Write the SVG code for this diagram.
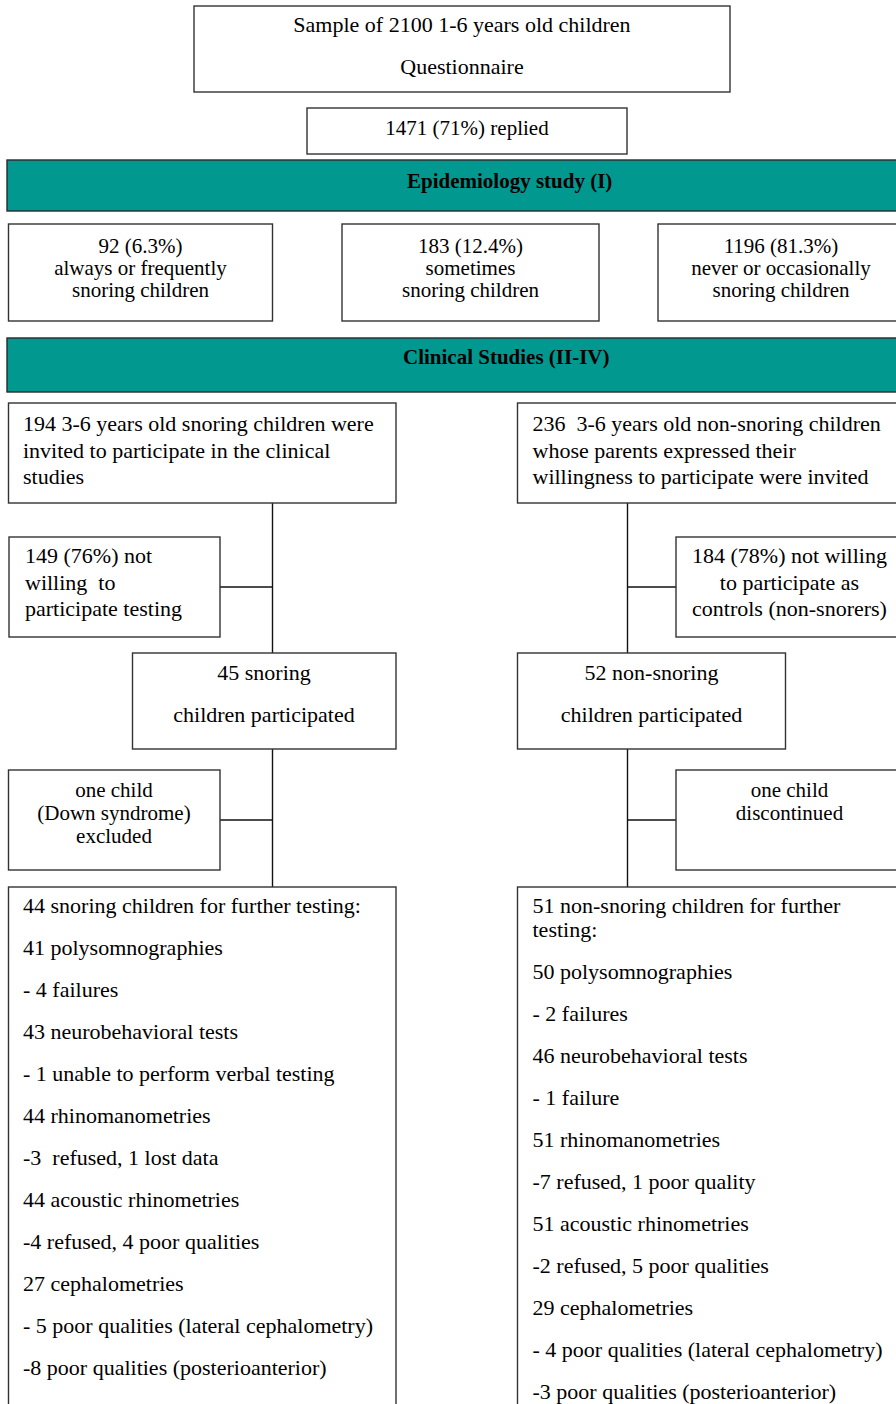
<svg xmlns="http://www.w3.org/2000/svg" width="896" height="1404" viewBox="0 0 896 1404">
<style>
.box{fill:#fff;stroke:#333;stroke-width:1.4}
.ban{fill:#00988F;stroke:#2a2a2a;stroke-width:1.4}
.t{font-family:"Liberation Serif","Times New Roman",serif;font-size:22px;fill:#000}
.s{font-size:21px}
.c{text-anchor:middle}
.b{font-weight:bold;font-size:21px}
.ln{stroke:#111;stroke-width:1.4;fill:none}
</style>
<rect width="896" height="1404" fill="#fff"/>
<g id="connectors">
<line class="ln" x1="272.5" y1="503" x2="272.5" y2="653"/>
<line class="ln" x1="220" y1="587" x2="272.5" y2="587"/>
<line class="ln" x1="272.5" y1="749" x2="272.5" y2="887"/>
<line class="ln" x1="220" y1="820" x2="272.5" y2="820"/>
<line class="ln" x1="627.5" y1="503" x2="627.5" y2="653"/>
<line class="ln" x1="627.5" y1="587" x2="676" y2="587"/>
<line class="ln" x1="627.5" y1="749" x2="627.5" y2="887"/>
<line class="ln" x1="627.5" y1="820" x2="676" y2="820"/>
</g>
<g id="sample">
<rect class="box" x="194" y="6" width="536" height="86"/>
<text class="t c" x="462" y="32">Sample of 2100 1-6 years old children</text>
<text class="t c" x="462" y="74">Questionnaire</text>
</g>
<g id="replied">
<rect class="box" x="307" y="108" width="320" height="46"/>
<text class="t c s" x="467" y="135">1471 (71%) replied</text>
</g>
<g id="epi">
<rect class="ban" x="7" y="160" width="1010" height="51"/>
<text class="t b" x="407" y="188">Epidemiology study (I)</text>
</g>
<g id="always">
<rect class="box" x="8.5" y="224" width="264" height="97"/>
<text class="t c s" x="140.5" y="253">92 (6.3%)</text>
<text class="t c s" x="140.5" y="275">always or frequently</text>
<text class="t c s" x="140.5" y="297">snoring children</text>
</g>
<g id="sometimes">
<rect class="box" x="342" y="224" width="257" height="97"/>
<text class="t c s" x="470.5" y="253">183 (12.4%)</text>
<text class="t c s" x="470.5" y="275">sometimes</text>
<text class="t c s" x="470.5" y="297">snoring children</text>
</g>
<g id="never">
<rect class="box" x="658" y="224" width="246" height="97"/>
<text class="t c s" x="781" y="253">1196 (81.3%)</text>
<text class="t c s" x="781" y="275">never or occasionally</text>
<text class="t c s" x="781" y="297">snoring children</text>
</g>
<g id="clinical">
<rect class="ban" x="7" y="338" width="1010" height="54"/>
<text class="t b" x="403" y="364">Clinical Studies (II-IV)</text>
</g>
<g id="invited-snoring">
<rect class="box" x="8.5" y="403" width="387.5" height="100"/>
<text class="t" x="23" y="431">194 3-6 years old snoring children were</text>
<text class="t" x="23" y="457.5">invited to participate in the clinical</text>
<text class="t" x="23" y="484">studies</text>
</g>
<g id="invited-nonsnoring">
<rect class="box" x="517.5" y="403" width="390" height="100"/>
<text class="t" x="532.5" y="431" xml:space="preserve">236  3-6 years old non-snoring children</text>
<text class="t" x="532.5" y="457.5">whose parents expressed their</text>
<text class="t" x="532.5" y="484">willingness to participate were invited</text>
</g>
<g id="not-willing-snoring">
<rect class="box" x="9" y="537" width="211" height="100"/>
<text class="t" x="25" y="563">149 (76%) not</text>
<text class="t" x="25" y="589.5" xml:space="preserve">willing  to</text>
<text class="t" x="25" y="616">participate testing</text>
</g>
<g id="not-willing-controls">
<rect class="box" x="676" y="537" width="228" height="100"/>
<text class="t c" x="789.5" y="563">184 (78%) not willing</text>
<text class="t c" x="789.5" y="589.5">to participate as</text>
<text class="t c" x="789.5" y="616">controls (non-snorers)</text>
</g>
<g id="participated-snoring">
<rect class="box" x="132.5" y="653" width="263.5" height="96"/>
<text class="t c" x="264" y="680">45 snoring</text>
<text class="t c" x="264" y="722">children participated</text>
</g>
<g id="participated-nonsnoring">
<rect class="box" x="517.5" y="653" width="268" height="96"/>
<text class="t c" x="651.5" y="680">52 non-snoring</text>
<text class="t c" x="651.5" y="722">children participated</text>
</g>
<g id="excluded">
<rect class="box" x="8.5" y="770" width="211.5" height="100"/>
<text class="t c s" x="114" y="797">one child</text>
<text class="t c s" x="114" y="819.5">(Down syndrome)</text>
<text class="t c s" x="114" y="842.5">excluded</text>
</g>
<g id="discontinued">
<rect class="box" x="676" y="770" width="228" height="100"/>
<text class="t c s" x="789.5" y="797">one child</text>
<text class="t c s" x="789.5" y="819.5">discontinued</text>
</g>
<g id="testing-snoring">
<rect class="box" x="8.5" y="887" width="387.5" height="540"/>
<text class="t" x="23" y="913">44 snoring children for further testing:</text>
<text class="t" x="23" y="955">41 polysomnographies</text>
<text class="t" x="23" y="997">- 4 failures</text>
<text class="t" x="23" y="1039">43 neurobehavioral tests</text>
<text class="t" x="23" y="1081">- 1 unable to perform verbal testing</text>
<text class="t" x="23" y="1123">44 rhinomanometries</text>
<text class="t" x="23" y="1165" xml:space="preserve">-3  refused, 1 lost data</text>
<text class="t" x="23" y="1207">44 acoustic rhinometries</text>
<text class="t" x="23" y="1249">-4 refused, 4 poor qualities</text>
<text class="t" x="23" y="1291">27 cephalometries</text>
<text class="t" x="23" y="1333">- 5 poor qualities (lateral cephalometry)</text>
<text class="t" x="23" y="1375">-8 poor qualities (posterioanterior)</text>
</g>
<g id="testing-nonsnoring">
<rect class="box" x="517.5" y="887" width="390" height="540"/>
<text class="t" x="532.5" y="913">51 non-snoring children for further</text>
<text class="t" x="532.5" y="937">testing:</text>
<text class="t" x="532.5" y="979">50 polysomnographies</text>
<text class="t" x="532.5" y="1021">- 2 failures</text>
<text class="t" x="532.5" y="1063">46 neurobehavioral tests</text>
<text class="t" x="532.5" y="1105">- 1 failure</text>
<text class="t" x="532.5" y="1147">51 rhinomanometries</text>
<text class="t" x="532.5" y="1189">-7 refused, 1 poor quality</text>
<text class="t" x="532.5" y="1231">51 acoustic rhinometries</text>
<text class="t" x="532.5" y="1273">-2 refused, 5 poor qualities</text>
<text class="t" x="532.5" y="1315">29 cephalometries</text>
<text class="t" x="532.5" y="1357">- 4 poor qualities (lateral cephalometry)</text>
<text class="t" x="532.5" y="1399">-3 poor qualities (posterioanterior)</text>
</g>
</svg>
